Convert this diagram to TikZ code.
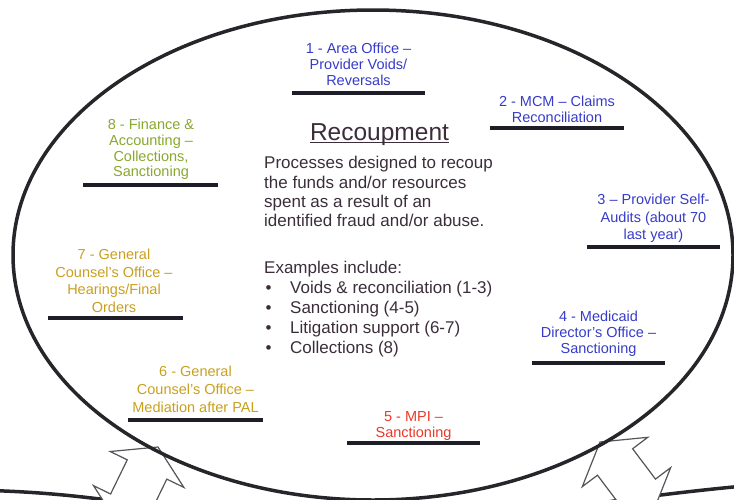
\documentclass[tikz,border=0pt]{standalone}
\usepackage{fontspec}
\setmainfont{Liberation Sans}
\definecolor{labelblue}{RGB}{55,60,200}
\definecolor{labelred}{RGB}{235,55,40}
\definecolor{labelgold}{RGB}{200,160,30}
\definecolor{labelgreen}{RGB}{135,168,45}
\definecolor{bodytext}{RGB}{59,46,58}
\definecolor{barcolor}{RGB}{30,30,40}
\definecolor{rimcolor}{RGB}{38,38,42}
\definecolor{arrowgray}{RGB}{85,85,90}
\newcommand\itemdot{\makebox[26pt][l]{\hspace{1.5pt}\textbullet}}
\begin{document}
\begin{tikzpicture}[x=1pt,y=-1pt,
  lbl/.style={align=center, inner sep=0pt, font=\fontsize{14.5}{#1}\selectfont},
  body/.style={align=left, inner sep=0pt, anchor=west, text=bodytext,
    font=\fontsize{17}{#1}\selectfont},
  bar/.style={draw=barcolor, line width=4pt},
  rim/.style={draw=rimcolor, line width=3.5pt},
  arrowline/.style={draw=arrowgray, line width=1.2pt, fill=white, line join=miter},
  dblarrow/.pic={
    \path[arrowline] (0,0) -- (-25,41) -- (-25,22) -- (-63,22) -- (-63,41)
      -- (-88,0) -- (-63,-41) -- (-63,-22) -- (-25,-22) -- (-25,-41) -- cycle;
  }]
\useasboundingbox (0,0) rectangle (734,499);
\clip (0,0) rectangle (734,499);

% neighbouring circles below
\draw[rim] (-10,490.5) .. controls (40,492) and (80,496) .. (130,503);
\draw[rim] (600,503) .. controls (650,496) and (700,490) .. (744,486);

% two-way links to the neighbouring circles
\pic[rotate=64] at (158,447) {dblarrow};
\pic[rotate=127] at (600,442) {dblarrow};

% recoupment circle
\draw[rim] (373,255) ellipse [x radius=360, y radius=245];

% title and description
\node[anchor=base, inner sep=0pt, text=bodytext, font=\fontsize{24.5}{29}\selectfont]
  (title) at (379.5,140) {Recoupment};
\draw[bodytext, line width=1.8pt] ([yshift=-2.5pt]title.base west) -- ([yshift=-2.5pt]title.base east);

\node[body=19.3] (desc) at (264,193.9) {Processes designed to recoup\strut\\
  the funds and/or resources\strut\\
  spent as a result of an\strut\\
  identified fraud and/or abuse.\strut};

\node[body=20] (examples) at (264,309.8) {Examples include:\strut\\
  \itemdot Voids \& reconciliation (1-3)\strut\\
  \itemdot Sanctioning (4-5)\strut\\
  \itemdot Litigation support (6-7)\strut\\
  \itemdot Collections (8)\strut};

% participating offices
\node[lbl=15, text=labelblue] (area) at (358.5,66.8)
  {1 - Area Office –\strut\\Provider Voids/\strut\\Reversals\strut};
\draw[bar] (292,93) -- (425,93);

\node[lbl=16, text=labelblue] (mcm) at (557,111.6)
  {2 - MCM – Claims\strut\\Reconciliation\strut};
\draw[bar] (490,128) -- (624,128);

\node[lbl=17.5, text=labelblue] (self) at (653.5,218.8)
  {3 – Provider Self-\strut\\Audits (about 70\strut\\last year)\strut};
\draw[bar] (587,247) -- (720,247);

\node[lbl=15, text=labelblue] (director) at (598.5,334.8)
  {4 - Medicaid\strut\\Director's Office –\strut\\Sanctioning\strut};
\draw[bar] (532,363) -- (665,363);

\node[lbl=16, text=labelred] (mpi) at (413.5,426.6)
  {5 - MPI –\strut\\Sanctioning\strut};
\draw[bar] (347,443) -- (480,443);

\node[lbl=18, text=labelgold] (mediation) at (195.5,391.2)
  {6 - General\strut\\Counsel's Office –\strut\\Mediation after PAL\strut};
\draw[bar] (128,420) -- (263,420);

\node[lbl=17.5, text=labelgold] (hearings) at (114,282.6)
  {7 - General\strut\\Counsel's Office –\strut\\Hearings/Final\strut\\Orders\strut};
\draw[bar] (48,318) -- (183,318);

\node[lbl=15.7, text=labelgreen] (finance) at (151,150.2)
  {8 - Finance \&\strut\\Accounting –\strut\\Collections,\strut\\Sanctioning\strut};
\draw[bar] (83,185) -- (218,185);
\end{tikzpicture}
\end{document}
